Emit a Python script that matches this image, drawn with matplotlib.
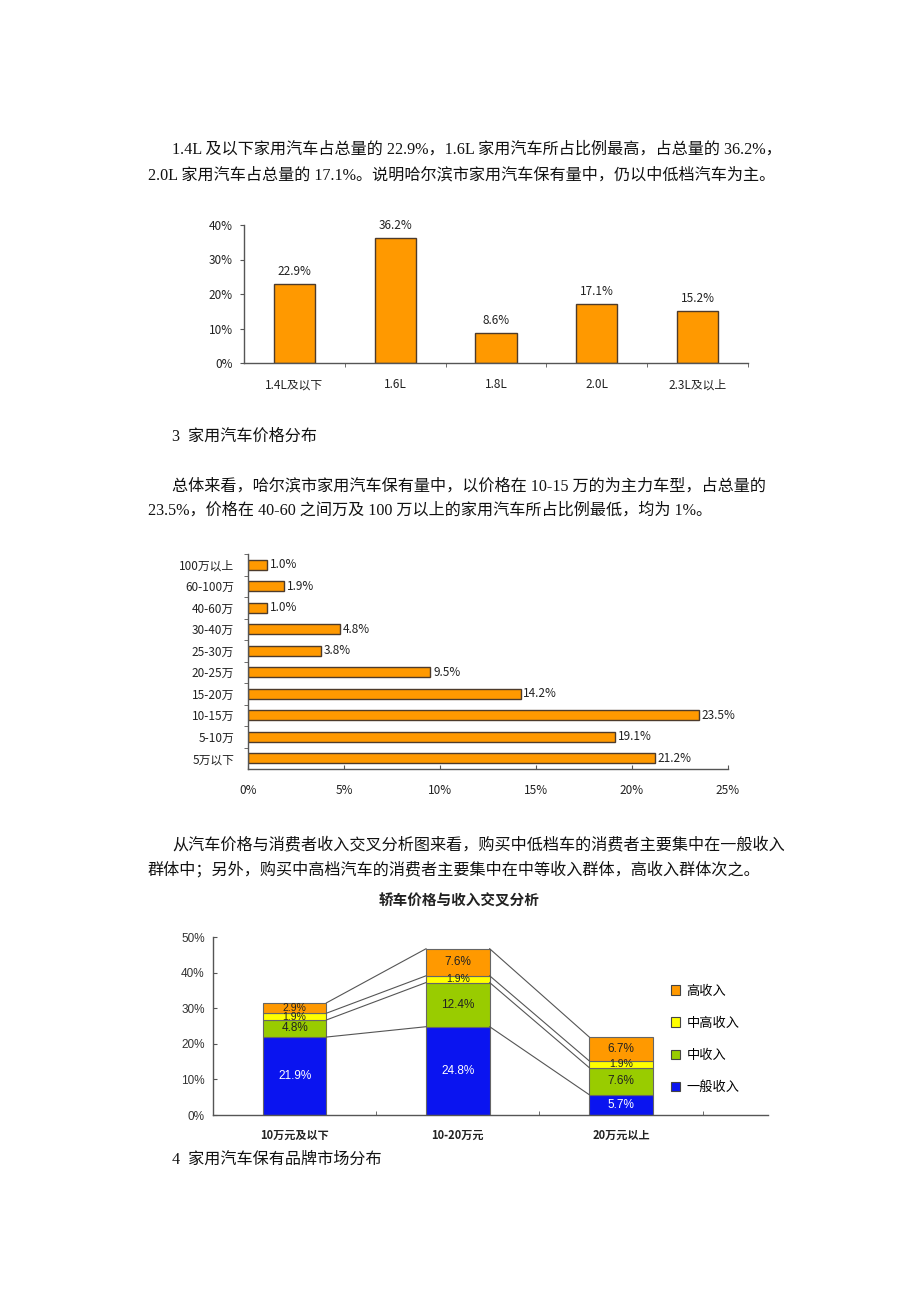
import numpy as np
import matplotlib
matplotlib.use('Agg')
import matplotlib.pyplot as plt
from matplotlib.patches import Patch

# page size in pixels
W, H = 920, 1302
plt.rcParams['font.family'] = ['Noto Sans CJK SC', 'DejaVu Sans']

# chart 1: engine displacement share
disp_labels = ['1.4L及以下', '1.6L', '1.8L', '2.0L', '2.3L及以上']
disp_share = [22.9, 36.2, 8.6, 17.1, 15.2]

# chart 2: price band share (bottom to top)
price_labels = ['5万以下', '5-10万', '10-15万', '15-20万', '20-25万',
                '25-30万', '30-40万', '40-60万', '60-100万', '100万以上']
price_share = [21.2, 19.1, 23.5, 14.2, 9.5, 3.8, 4.8, 1.0, 1.9, 1.0]

# chart 3: price x income cross analysis
cross_cats = ['10万元及以下', '10-20万元', '20万元以上']
income_groups = ['一般收入', '中收入', '中高收入', '高收入']
general = [21.9, 24.8, 5.7]
middle = [4.8, 12.4, 7.6]
upper_mid = [1.9, 1.9, 1.9]
high = [2.9, 7.6, 6.7]

ORANGE = '#FF9900'
EDGE = '#4d3b2b'
AXC = '#555555'

fig = plt.figure(figsize=(W / 100, H / 100), dpi=100)
fig.patch.set_facecolor('white')

body = dict(family=['Liberation Serif', 'Noto Sans CJK SC'], fontsize=11.6, color='#111111')


def put(x, y, s, **kw):
    fig.text(x / W, 1 - y / H, s, va='center', ha='left', **kw)


# page text
put(172, 150, '1.4L 及以下家用汽车占总量的 22.9%，1.6L 家用汽车所占比例最高，占总量的 36.2%，', **body)
put(148, 175, '2.0L 家用汽车占总量的 17.1%。说明哈尔滨市家用汽车保有量中，仍以中低档汽车为主。', **body)
put(172, 437, '3  家用汽车价格分布', **body)
put(172, 486, '总体来看，哈尔滨市家用汽车保有量中，以价格在 10-15 万的为主力车型，占总量的', **body)
put(148, 511, '23.5%，价格在 40-60 之间万及 100 万以上的家用汽车所占比例最低，均为 1%。', **body)
put(172, 845, '从汽车价格与消费者收入交叉分析图来看，购买中低档车的消费者主要集中在一般收入', **body)
put(148, 870, '群体中；另外，购买中高档汽车的消费者主要集中在中等收入群体，高收入群体次之。', **body)
put(172, 1160, '4  家用汽车保有品牌市场分布', **body)


def style_axes(ax):
    for s in ('top', 'right'):
        ax.spines[s].set_visible(False)
    for s in ('left', 'bottom'):
        ax.spines[s].set_color(AXC)
        ax.spines[s].set_linewidth(1.0)
    ax.set_facecolor('none')


# ---- chart 1 ----
ax1 = fig.add_axes([244 / W, 1 - 363 / H, 504 / W, 138 / H])
x1 = np.arange(len(disp_labels))
ax1.bar(x1, disp_share, width=0.41, color=ORANGE, edgecolor=EDGE, linewidth=1.0)
ax1.set_xlim(-0.5, len(disp_labels) - 0.5)
ax1.set_ylim(0, 40)
ax1.set_yticks(range(0, 41, 10), [f'{v}%' for v in range(0, 41, 10)])
ax1.set_xticks(x1, disp_labels)
ax1.set_xticks(np.arange(0.5, len(disp_labels), 1), minor=True)
ax1.tick_params(axis='x', which='major', length=0, pad=11, labelsize=8.5, colors='#222')
ax1.tick_params(axis='x', which='minor', length=3, direction='out', color=AXC)
ax1.tick_params(axis='y', length=3, direction='out', color=AXC, pad=5, labelsize=8.5, labelcolor='#222')
style_axes(ax1)
for xi, v in zip(x1, disp_share):
    ax1.annotate(f'{v}%', (xi, v), xytext=(0, 9), textcoords='offset points',
                 ha='center', va='center', fontsize=8.5, color='#222')

# ---- chart 2 ----
ax2 = fig.add_axes([248 / W, 1 - 769 / H, 480 / W, 215 / H])
y2 = np.arange(len(price_labels))
ax2.barh(y2, price_share, height=0.45, color=ORANGE, edgecolor=EDGE, linewidth=1.0)
ax2.set_xlim(0, 25)
ax2.set_ylim(-0.5, len(price_labels) - 0.5)
ax2.set_xticks(range(0, 26, 5), [f'{v}%' for v in range(0, 26, 5)])
ax2.set_yticks(y2, price_labels)
ax2.set_yticks(np.arange(0.5, len(price_labels), 1), minor=True)
ax2.tick_params(axis='x', length=3, direction='in', color=AXC, pad=11, labelsize=8.5, labelcolor='#222')
ax2.tick_params(axis='y', which='major', length=0, pad=10, labelsize=8.5, labelcolor='#222')
ax2.tick_params(axis='y', which='minor', length=3, direction='out', color=AXC)
style_axes(ax2)
for yi, v in zip(y2, price_share):
    ax2.annotate(f'{v:.1f}%', (v, yi), xytext=(2, 0), textcoords='offset points',
                 ha='left', va='center', fontsize=8.5, color='#222')

# ---- chart 3 ----
fig.text(459 / W, 1 - 900 / H, '轿车价格与收入交叉分析', ha='center', va='center',
         fontsize=10.5, fontweight='bold', color='#222')
ax3 = fig.add_axes([213 / W, 1 - 1115 / H, 555 / W, 178 / H])
x3 = np.arange(len(cross_cats))
bw = 0.39
series = [general, middle, upper_mid, high]
colors3 = ['#0A14F0', '#99CC00', '#FFFF00', ORANGE]
txtc = ['white', '#222', '#222', '#222']
bottom = np.zeros(len(cross_cats))
tops = []
for vals, col, tc, name in zip(series, colors3, txtc, income_groups):
    vals = np.array(vals)
    ax3.bar(x3, vals, bw, bottom=bottom, color=col, edgecolor='#666', linewidth=0.8, label=name)
    for xi, b, v in zip(x3, bottom, vals):
        ax3.text(xi, b + v / 2, f'{v}%', ha='center', va='center',
                 fontsize=8.5 if v > 3 else 7.5,
                 family=['Liberation Sans', 'DejaVu Sans'], color=tc)
    bottom = bottom + vals
    tops.append(bottom.copy())
for lvl in tops:
    for i in range(len(cross_cats) - 1):
        ax3.plot([x3[i] + bw / 2, x3[i + 1] - bw / 2], [lvl[i], lvl[i + 1]],
                 color='#555', linewidth=0.8)
ax3.set_xlim(-0.5, 2.9)
ax3.set_ylim(0, 50)
ax3.set_yticks(range(0, 51, 10), [f'{v}%' for v in range(0, 51, 10)])
ax3.set_xticks(x3, cross_cats)
ax3.set_xticks([0.5, 1.5, 2.5], minor=True)
for lab in ax3.get_xticklabels():
    lab.set_fontweight('bold')
ax3.tick_params(axis='x', which='major', length=0, pad=10, labelsize=8, labelcolor='#222')
ax3.tick_params(axis='x', which='minor', length=3, direction='in', color=AXC)
ax3.tick_params(axis='y', length=3, direction='in', color=AXC, pad=6, labelsize=8.5, labelcolor='#333')
for lab in ax3.get_yticklabels():
    lab.set_family(['Liberation Sans', 'DejaVu Sans'])
style_axes(ax3)
handles = [Patch(facecolor=c, edgecolor='#444', linewidth=0.8) for c in colors3]
leg = ax3.legend(handles[::-1], income_groups[::-1], loc='upper left',
                 bbox_to_anchor=(664 / W, 1 - 978 / H), bbox_transform=fig.transFigure,
                 frameon=False, fontsize=9.5, handlelength=0.7, handleheight=0.7,
                 handletextpad=0.5, labelspacing=1.45, borderpad=0)

fig.savefig('out.png', dpi=100, facecolor='white')
